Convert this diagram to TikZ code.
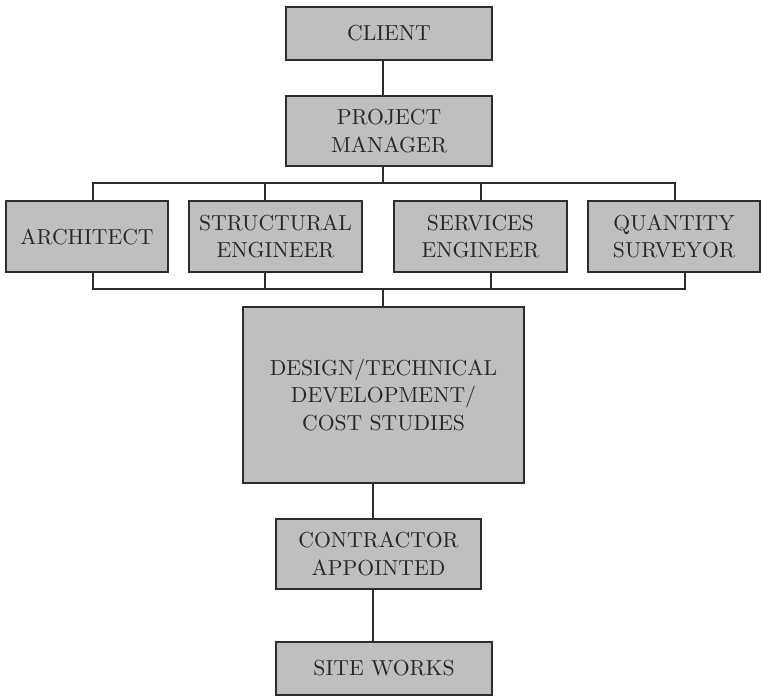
\documentclass[tikz,border=0pt]{standalone}
\usepackage{tikz}
\definecolor{boxgray}{RGB}{190,191,193}
\definecolor{linegray}{RGB}{45,45,45}

\begin{document}
\begin{tikzpicture}[x=0.47pt,y=-0.47pt,
    stage/.style={draw=linegray,line width=0.9pt,fill=boxgray,align=center,
      inner sep=0pt,outer sep=0pt,text=black!85,font=\fontsize{10.2}{12.8}\selectfont},
    link/.style={draw=linegray,line width=0.7pt}]
        \useasboundingbox (0,0) rectangle (761,696);
        \node[stage,minimum width=206*0.47pt,minimum height=53*0.47pt] (client) at (389,33.5) {CLIENT};
        \node[stage,minimum width=206*0.47pt,minimum height=70*0.47pt] (pm) at (389,131) {PROJECT\\MANAGER};
        \node[stage,minimum width=162*0.47pt,minimum height=71*0.47pt] (arch) at (87,236.5) {ARCHITECT};
        \node[stage,minimum width=173*0.47pt,minimum height=71*0.47pt] (struct) at (275.5,236.5) {STRUCTURAL\\ENGINEER};
        \node[stage,minimum width=173*0.47pt,minimum height=71*0.47pt] (serv) at (480.5,236.5) {SERVICES\\ENGINEER};
        \node[stage,minimum width=172*0.47pt,minimum height=71*0.47pt] (qs) at (674,236.5) {QUANTITY\\SURVEYOR};
        \node[stage,minimum width=281*0.47pt,minimum height=176*0.47pt] (design) at (383.5,395) {DESIGN/TECHNICAL\\DEVELOPMENT/\\COST STUDIES};
        \node[stage,minimum width=205*0.47pt,minimum height=70*0.47pt] (contr) at (378.5,554) {CONTRACTOR\\APPOINTED};
        \node[stage,minimum width=216*0.47pt,minimum height=53*0.47pt] (site) at (384,668.5) {SITE WORKS};
        % bus points
        \coordinate (tc) at (383,183);
        \coordinate (t1) at (93,183);
        \coordinate (t2) at (265,183);
        \coordinate (t3) at (481,183);
        \coordinate (t4) at (675,183);
        \coordinate (bc) at (383,289);
        \coordinate (b1) at (93,289);
        \coordinate (b2) at (265,289);
        \coordinate (b3) at (491,289);
        \coordinate (b4) at (685,289);
        \coordinate (lc) at (373,500);
        \draw[link] (client.south -| tc)--(pm.north -| tc);
        \draw[link] (pm.south -| tc)--(tc);
        \draw[link] (arch.north -| t1)--(t1)--(t4)--(qs.north -| t4);
        \draw[link] (struct.north -| t2)--(t2);
        \draw[link] (serv.north -| t3)--(t3);
        \draw[link] (arch.south -| b1)--(b1)--(b4)--(qs.south -| b4);
        \draw[link] (struct.south -| b2)--(b2);
        \draw[link] (serv.south -| b3)--(b3);
        \draw[link] (bc)--(design.north -| bc);
        \draw[link] (design.south -| lc)--(contr.north -| lc);
        \draw[link] (contr.south -| lc)--(site.north -| lc);
    \end{tikzpicture}
\end{document}
